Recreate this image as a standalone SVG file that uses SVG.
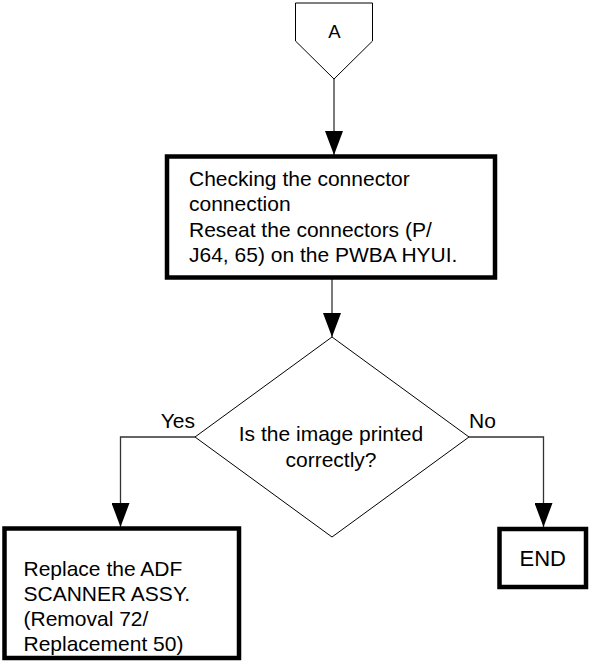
<svg xmlns="http://www.w3.org/2000/svg" width="589" height="661" viewBox="0 0 589 661">
<defs>
<marker id="arr" markerUnits="userSpaceOnUse" markerWidth="24" markerHeight="18" refX="24" refY="9" orient="auto">
<path d="M0,0 L24,9 L0,18 Z" fill="#000"/>
</marker>
<style>
.t{font-family:"Liberation Sans",Arial,sans-serif;font-size:21px;fill:#000}
.box{fill:#fff;stroke:#000;stroke-width:4.5}
.thin{fill:#fff;stroke:#000;stroke-width:1}
.conn{fill:none;stroke:#333;stroke-width:1.3;marker-end:url(#arr)}
</style>
</defs>
<rect width="589" height="661" fill="#fff"/>
<g id="connectors">
<path class="conn" d="M334,79 V155"/>
<path class="conn" d="M332,279 V337"/>
<path class="conn" d="M195,437 H120.5 V527"/>
<path class="conn" d="M469,437 H543.5 V527"/>
</g>
<g id="offpage-A">
<path class="thin" stroke="#555" d="M295.5,3 H372.5 V41 L334,79 L295.5,41 Z"/>
<text class="t" x="334.5" y="38" text-anchor="middle" style="font-size:18.5px">A</text>
</g>
<g id="check-connector">
<rect class="box" x="167" y="156.5" width="328" height="121"/>
<text class="t" x="189" y="186">Checking the connector</text>
<text class="t" x="189" y="211.3">connection</text>
<text class="t" x="189" y="236.6">Reseat the connectors (P/</text>
<text class="t" x="189" y="262">J64, 65) on the PWBA HYUI.</text>
</g>
<g id="decision">
<path class="thin" d="M332,337 L469,437 L332,537 L195,437 Z"/>
<text class="t" x="331" y="441" text-anchor="middle">Is the image printed</text>
<text class="t" x="331" y="466.5" text-anchor="middle">correctly?</text>
<text class="t" x="195" y="428" text-anchor="end">Yes</text>
<text class="t" x="469" y="428">No</text>
</g>
<g id="replace-adf">
<rect class="box" x="4.5" y="528.5" width="234.5" height="129.5"/>
<text class="t" x="23.5" y="575.5">Replace the ADF</text>
<text class="t" x="23.5" y="600.5">SCANNER ASSY.</text>
<text class="t" x="23.5" y="625.5">(Removal 72/</text>
<text class="t" x="23.5" y="650.5">Replacement 50)</text>
</g>
<g id="end">
<rect class="box" x="499.5" y="529" width="86.5" height="58"/>
<text class="t" x="542.8" y="566" text-anchor="middle" style="font-size:22px">END</text>
</g>
</svg>
